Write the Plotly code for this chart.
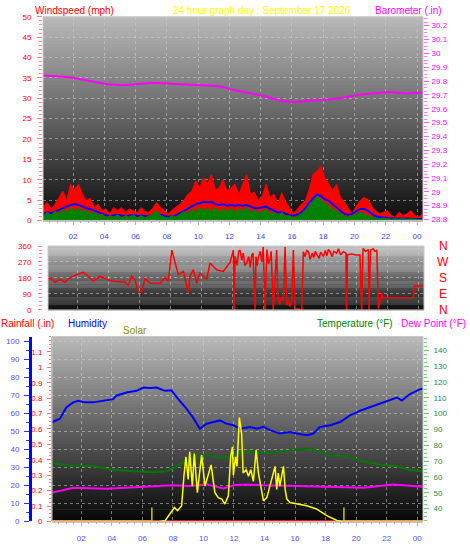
import numpy as np
import plotly.graph_objects as go

# ---------------- data ----------------
wind_hours = [round(0.1 + 0.25 * i, 2) for i in range(98)]
wind_gust = [3.5, 4.4, 2.8, 4.0, 5.6, 7.2, 5.0, 8.9, 7.5, 8.9, 6.5, 4.8, 5.5, 3.2, 4.0, 2.4,
             2.8, 1.6, 3.2, 2.4, 3.2, 2.0, 2.8, 2.4, 1.8, 3.2, 2.2, 2.0, 3.0, 4.4, 3.2, 2.4,
             1.6, 2.6, 3.2, 4.0, 5.0, 6.4, 7.2, 9.7, 8.0, 10.5, 8.9, 11.3, 7.5, 8.0, 10.0, 7.2,
             8.0, 8.9, 6.4, 9.0, 11.3, 6.4, 7.0, 4.8, 6.0, 8.9, 5.6, 6.5, 4.0, 6.8, 4.5, 3.2,
             1.6, 2.8, 4.0, 4.8, 7.5, 11.3, 12.1, 13.3, 10.5, 9.0, 7.2, 8.9, 5.6, 4.5, 3.2, 1.6,
             3.5, 4.8, 5.6, 5.2, 3.5, 2.4, 1.6, 2.0, 2.4, 1.2, 0.8, 2.0, 1.2, 1.6, 2.4, 1.2,
             0.8, 1.6]
wind_avg = [1.5, 2.0, 1.8, 2.2, 2.4, 2.8, 3.2, 3.8, 4.0, 3.8, 3.4, 3.0, 2.8, 2.4, 2.0, 1.6,
            1.3, 1.1, 1.2, 1.4, 1.2, 1.0, 1.2, 1.3, 1.1, 1.2, 1.0, 1.1, 1.4, 1.6, 1.4, 1.1,
            0.9, 1.0, 1.3, 1.8, 2.4, 3.0, 3.4, 4.0, 4.2, 4.6, 4.4, 4.6, 4.0, 3.8, 4.0, 3.6,
            3.8, 3.6, 3.8, 3.6, 3.8, 3.4, 3.0, 3.0, 3.2, 3.4, 2.8, 2.4, 2.0, 2.0, 1.6, 1.3,
            1.2, 1.4, 2.0, 3.0, 4.4, 5.4, 6.4, 6.0, 5.2, 4.8, 4.0, 3.4, 2.4, 1.6, 1.4, 1.6,
            2.2, 2.8, 2.8, 2.4, 1.6, 1.0, 0.8, 0.8, 0.6, 0.5, 0.4, 0.5, 0.4, 0.5, 0.4, 0.4,
            0.3, 0.4]
wind_speed = [1.0, 2.0, 1.2, 2.4, 1.5, 2.8, 2.0, 3.2, 2.4, 3.0, 2.2, 2.6, 1.6, 2.2, 1.2, 1.6,
              0.6, 1.2, 0.8, 1.4, 0.6, 1.2, 0.8, 1.4, 0.6, 1.2, 0.6, 1.0, 1.6, 2.4, 1.2, 0.8,
              0.6, 1.2, 0.8, 1.6, 2.2, 1.6, 2.8, 2.0, 3.2, 2.4, 3.0, 2.2, 3.2, 2.0, 2.8, 2.2,
              3.0, 2.0, 2.8, 2.4, 3.2, 2.0, 2.6, 1.8, 2.4, 2.8, 1.6, 2.0, 1.2, 2.0, 1.0, 1.2,
              0.6, 1.0, 1.6, 2.4, 3.6, 4.8, 6.0, 5.0, 4.4, 3.6, 2.8, 2.4, 1.6, 1.2, 0.8, 1.2,
              1.6, 2.0, 1.6, 1.2, 0.8, 0.6, 0.4, 0.6, 0.4, 0.3, 0.4, 0.3, 0.4, 0.3, 0.4, 0.3,
              0.2, 0.3]

baro_hours = [0.08, 0.98, 2.0, 3.09, 4.17, 5.2, 6.09, 7.11, 8.0, 9.03, 10.1, 11.2, 11.84,
              12.03, 13.1, 14.14, 15.2, 16.06, 17.14, 18.2, 19.25, 20.53, 22.25, 23.34, 24.38]
baro_values = [29.84, 29.835, 29.823, 29.80, 29.776, 29.77, 29.776, 29.788, 29.783, 29.776,
               29.77, 29.764, 29.75, 29.74, 29.717, 29.693, 29.66, 29.646, 29.66, 29.665,
               29.68, 29.705, 29.72, 29.71, 29.717]

dir_hours = [0.08, 0.21, 0.53, 0.86, 1.18, 1.5, 1.93, 2.36, 2.69, 3.01, 3.44, 3.87, 4.3, 4.73,
             5.06, 5.27, 5.49, 5.7, 5.92, 6.14, 6.35, 6.67, 7.32, 7.64, 7.86, 8.08, 8.29, 8.5,
             8.83, 9.15, 9.26, 9.47, 9.69, 9.9, 10.34, 10.55, 10.98, 11.41, 11.84,
             12.06, 12.1, 12.17, 12.3, 12.4, 12.49, 12.6, 12.7, 12.8, 12.92, 13.05, 13.15,
             13.25, 13.33, 13.46, 13.52, 13.6, 13.67, 13.8, 13.9, 13.99, 14.1, 14.23, 14.33,
             14.43, 14.5, 14.64, 14.86, 14.94, 15.05, 15.15, 15.29, 15.4, 15.51, 15.6, 15.7,
             15.83, 15.94, 16.05, 16.48, 16.58, 16.7, 16.8, 16.91, 17.02, 17.15, 17.25, 17.35,
             17.45, 17.6, 17.7, 17.88, 18.0, 18.1, 18.2, 18.31, 18.45, 18.55, 18.74, 18.85,
             19.0, 19.17, 19.34, 19.37, 19.43, 19.7, 20.0, 20.24, 20.35, 20.44, 20.6, 20.78,
             20.83, 20.92, 21.1, 21.2, 21.33, 21.43, 21.65, 21.73, 23.69, 23.77, 24.38]
dir_values = [175, 181, 155, 172, 155, 181, 199, 212, 190, 162, 190, 172, 162, 157,
              157, 138, 190, 172, 98, 107, 176, 150, 150, 181, 162, 337, 264, 199,
              217, 98, 190, 226, 150, 208, 172, 264, 226, 217, 267,
              337, 0, 302, 250, 330, 337, 280, 320, 250, 264, 300, 240,
              310, 320, 0, 300, 250, 293, 330, 270, 355, 0, 340, 260,
              284, 330, 0, 337, 79, 30, 70, 52, 355, 26, 60, 20,
              52, 337, 8, 0, 328, 300, 335, 328, 284, 320, 295, 330,
              310, 290, 325, 302, 335, 305, 340, 328, 300, 330, 320, 345,
              310, 328, 320, 0, 310, 315, 310, 310, 0, 346, 330, 340,
              0, 337, 345, 330, 337, 8, 98, 69, 69, 135, 135]

hum_hours = [0.1, 0.6, 1.03, 1.47, 1.79, 2.23, 2.78, 3.43, 4.09, 4.3, 4.96, 5.62, 6.06, 6.5,
             6.93, 7.48, 7.9, 8.35, 8.9, 9.3, 9.77, 10.2, 10.65, 11.08, 11.5, 11.96, 12.4,
             13.05, 13.5, 13.93, 14.36, 15.0, 15.67, 16.1, 16.77, 17.2, 17.64, 18.3, 18.95,
             19.6, 20.3, 20.9, 21.6, 22.2, 22.67, 23.0, 23.5, 24.2, 24.38]
hum_values = [55.1, 56.9, 63.3, 66.0, 66.9, 66.0, 66.0, 67.0, 67.8, 69.7, 71.5, 72.4, 74.2, 74.0,
              74.2, 72.4, 72.7, 67.8, 62.4, 57.8, 51.4, 54.2, 55.1, 56.0, 54.2, 53.3, 51.4,
              52.4, 51.4, 52.4, 50.6, 48.7, 49.6, 48.7, 47.8, 48.7, 52.4, 53.3, 55.1,
              58.8, 61.5, 63.3, 65.1, 67.0, 68.7, 67.0, 70.5, 73.3, 73.5]

temp_hours = [0.1, 1.47, 2.78, 4.09, 5.4, 6.71, 7.58, 8.24, 8.9, 9.77, 10.43, 11.08, 11.96,
              12.4, 13.05, 13.93, 15.0, 16.1, 17.0, 17.64, 18.3, 19.4, 20.5, 21.6, 22.67,
              23.5, 24.2, 24.38]
temp_values = [68.7, 67.1, 66.7, 64.6, 63.6, 62.9, 63.6, 66.7, 70.8, 72.9, 73.9, 71.8, 73.5,
               75.0, 76.0, 74.9, 76.0, 77.0, 78.0, 76.0, 73.9, 72.9, 69.8, 67.7, 66.7,
               64.6, 63.6, 63.5]

dew_hours = [0.1, 1.03, 1.47, 3.65, 5.84, 8.02, 9.1, 10.2, 11.3, 12.0, 12.8, 13.9, 16.1,
             18.3, 20.5, 22.45, 24.2, 24.38]
dew_values = [50.1, 52.2, 53.2, 52.6, 53.8, 54.7, 54.3, 55.3, 52.8, 54.8, 55.3, 54.7, 54.3,
              53.8, 53.2, 55.3, 53.8, 53.8]

solar_hours = [6.62, 7.1, 7.5, 7.9, 8.1, 8.3, 8.57, 8.72, 8.85, 9.0, 9.1, 9.27, 9.4, 9.6,
               9.88, 10.1, 10.3, 10.5, 10.75, 10.97, 11.2, 11.4, 11.63, 11.78, 11.9, 11.96,
               12.1, 12.2, 12.35, 12.5, 12.6, 12.8, 12.95, 13.1, 13.27, 13.45, 13.6, 13.75,
               13.93, 14.15, 14.36, 14.58, 14.69, 14.8, 14.9, 15.0, 15.24, 15.35, 15.46, 15.67,
               16.1, 16.77, 17.4, 18.08, 18.74, 19.2]
solar_values = [0, 0, 6, 59, 91, 70, 102, 293, 420, 272, 452, 229, 441, 187,
                431, 229, 293, 367, 187, 155, 145, 113, 166, 420, 484, 300,
                420, 357, 675, 569, 314, 336, 293, 336, 261, 463, 314, 229,
                134, 155, 229, 314, 357, 208, 314, 229, 357, 208, 145, 123,
                113, 102, 81, 38, 6, 0]
sun_events = [6.62, 19.2]          # sunrise / sunset markers
sun_marker_height = 90

rain_hours = [0.08, 24.38]
rain_values = [0.0, 0.0]
night_hours = [[0.08, 6.62], [19.2, 24.38]]

xtick_vals = [2, 4, 6, 8, 10, 12, 14, 16, 18, 20, 22, 24]
xtick_text = ["02", "04", "06", "08", "10", "12", "14", "16", "18", "20", "22", "00"]
dir_ticks = [0, 90, 180, 270, 360]
compass = ["N", "W", "S", "E", "N"]
compass_vals = [360, 270, 180, 90, 0]

# ---------------- figure ----------------
W, H = 470, 554
FONT = "Liberation Sans"
XR = [0.08, 24.38]

def px_x(p):
    return p / W

def px_y(p):
    return 1 - p / H

fig = go.Figure()

# top panel
fig.add_trace(go.Scatter(x=wind_hours, y=wind_gust, mode="lines", fill="tozeroy",
                         line=dict(color="#ff0000", width=1), fillcolor="#ff0000",
                         xaxis="x", yaxis="y", hoverinfo="skip"))
fig.add_trace(go.Scatter(x=wind_hours, y=wind_avg, mode="lines",
                         line=dict(color="#0000ff", width=2),
                         xaxis="x", yaxis="y", hoverinfo="skip"))
fig.add_trace(go.Scatter(x=wind_hours, y=wind_speed, mode="lines", fill="tozeroy",
                         line=dict(color="#008000", width=1), fillcolor="#008000",
                         xaxis="x", yaxis="y", hoverinfo="skip"))
fig.add_trace(go.Scatter(x=baro_hours, y=baro_values, mode="lines",
                         line=dict(color="#ff00ff", width=2),
                         xaxis="x", yaxis="y2", hoverinfo="skip"))

# middle panel
fig.add_trace(go.Scatter(x=dir_hours, y=dir_values, mode="lines",
                         line=dict(color="#ff0000", width=1.5),
                         xaxis="x2", yaxis="y3", hoverinfo="skip"))

# bottom panel
fig.add_trace(go.Scatter(x=rain_hours, y=rain_values, mode="lines",
                         line=dict(color="#ff0000", width=3),
                         xaxis="x3", yaxis="y4", hoverinfo="skip"))
for seg in night_hours:
    fig.add_trace(go.Scatter(x=seg, y=[0, 0], mode="lines",
                             line=dict(color="#ff9900", width=3),
                             xaxis="x3", yaxis="y4", hoverinfo="skip"))
fig.add_trace(go.Scatter(x=temp_hours, y=temp_values, mode="lines",
                         line=dict(color="#007800", width=2),
                         xaxis="x3", yaxis="y6", hoverinfo="skip"))
fig.add_trace(go.Scatter(x=dew_hours, y=dew_values, mode="lines",
                         line=dict(color="#ff00ff", width=2),
                         xaxis="x3", yaxis="y6", hoverinfo="skip"))
fig.add_trace(go.Scatter(x=hum_hours, y=hum_values, mode="lines",
                         line=dict(color="#0000ff", width=2),
                         xaxis="x3", yaxis="y5", hoverinfo="skip"))
fig.add_trace(go.Scatter(x=solar_hours, y=solar_values, mode="lines",
                         line=dict(color="#ffff00", width=1.5),
                         xaxis="x3", yaxis="y7", hoverinfo="skip"))
for t in sun_events:
    fig.add_trace(go.Scatter(x=[t, t], y=[0, sun_marker_height], mode="lines",
                             line=dict(color="#c8c800", width=1.5),
                             xaxis="x3", yaxis="y7", hoverinfo="skip"))

# gradient backgrounds
def gradient(xref, yref, top, bottom, n=60):
    shapes = []
    for i in range(n):
        f = i / (n - 1)
        c = [int(round(top[k] + (bottom[k] - top[k]) * f)) for k in range(3)]
        col = f"rgb({c[0]},{c[1]},{c[2]})"
        shapes.append(dict(type="rect", xref=xref, yref=yref, x0=0, x1=1,
                           y0=1 - (i + 1) / n - 0.004, y1=1 - i / n, layer="below",
                           line=dict(width=0), fillcolor=col))
    shapes.append(dict(type="rect", xref=xref, yref=yref, x0=0, x1=1, y0=0, y1=1,
                       layer="above", line=dict(color="#c8c8c8", width=1),
                       fillcolor="rgba(0,0,0,0)"))
    return shapes

shapes = []
shapes += gradient("x domain", "y domain", (184, 184, 184), (14, 14, 14))
shapes += gradient("x2 domain", "y3 domain", (190, 190, 190), (14, 14, 14))
shapes += gradient("x3 domain", "y4 domain", (184, 184, 184), (8, 8, 8))

tickfont = lambda c: dict(family=FONT, size=8, color=c)
grid = dict(showgrid=True, gridcolor="rgba(205,205,205,0.55)", griddash="dot", gridwidth=1)

def minor(dtick, color, tick0=0, ln=3):
    return dict(dtick=dtick, tick0=tick0, ticks="outside", ticklen=ln, tickcolor=color,
                showgrid=False)

xcommon = dict(range=XR, tickvals=xtick_vals, ticktext=xtick_text, ticks="outside",
               ticklen=4, tickcolor="#b0b0b0", zeroline=False,
               minor=minor(0.5, "#b0b0b0", 0, 2), **grid)

layout = dict(
    width=W, height=H, margin=dict(l=0, r=0, t=0, b=0),
    paper_bgcolor="white", plot_bgcolor="rgba(0,0,0,0)", showlegend=False,
    xaxis=dict(domain=[px_x(43), px_x(423)], anchor="y",
               tickfont=tickfont("#4040ff"), ticklabelstandoff=4, **xcommon),
    yaxis=dict(domain=[px_y(220), px_y(13)], range=[0, 50], dtick=5, ticks="outside",
               ticklen=5, tickcolor="#ff8080", tickfont=tickfont("#ff0000"),
               ticklabelstandoff=4, zeroline=False,
               minor=minor(1, "#ff9090"), **grid),
    yaxis2=dict(overlaying="y", side="right", anchor="x", range=[28.793, 30.264],
                dtick=0.1, tick0=28.8, ticks="outside", ticklen=5, tickcolor="#ff60ff",
                tickfont=tickfont("#ff00ff"), ticklabelstandoff=1, showgrid=False,
                zeroline=False, minor=minor(0.025, "#ff80ff", 28.8)),
    xaxis2=dict(domain=[px_x(48), px_x(424)], anchor="y3", showticklabels=False,
                **{k: v for k, v in xcommon.items() if k not in ("ticks", "minor")},
                ticks=""),
    yaxis3=dict(domain=[px_y(311), px_y(246)], range=[0, 360], tickvals=dir_ticks,
                ticks="outside", ticklen=4, tickcolor="#ff8080",
                tickfont=tickfont("#ff0000"), ticklabelstandoff=5, zeroline=False,
                minor=minor(22.5, "#ff9090"), **grid),
    xaxis3=dict(domain=[px_x(52), px_x(423)], anchor="y4",
                tickfont=tickfont("#5050ff"), ticklabelstandoff=5, **xcommon),
    yaxis4=dict(domain=[px_y(526), px_y(338)], range=[0, 1.2],
                anchor="x3", ticks="outside", ticklen=4, tickcolor="#ff7070",
                tickfont=tickfont("#ff0000"), ticklabelstandoff=3, showgrid=False,
                zeroline=False, showline=True, linecolor="#ff9090", linewidth=1,
                tickvals=[0, 0.1, 0.2, 0.3, 0.4, 0.5, 0.6, 0.7, 0.8, 0.9, 1, 1.1],
                ticktext=["0", "0.1", "0.2", "0.3", "0.4", "0.5", "0.6", "0.7", "0.8",
                          "0.9", "1", "1.1"],
                minor=minor(0.025, "#ff8080", 0, 2)),
    yaxis5=dict(overlaying="y4", anchor="free", position=px_x(30), side="left",
                range=[0, 102.5], dtick=10, tick0=0, ticks="outside", ticklen=5,
                tickcolor="#3030ff", tickfont=tickfont("#5050ff"), ticklabelstandoff=3,
                showline=True, linecolor="#0000ff", linewidth=3, zeroline=False,
                minor=minor(5, "#3030ff"), **grid),
    yaxis6=dict(overlaying="y4", side="right", anchor="x3", range=[31.9, 148.7],
                dtick=10, tick0=0, ticks="outside", ticklen=5, tickcolor="#70c070",
                tickfont=tickfont("#1a8a50"), ticklabelstandoff=3, showgrid=False,
                zeroline=False, minor=minor(2.5, "#80c880")),
    yaxis7=dict(overlaying="y4", range=[0, 1200], visible=False, anchor="x3"),
    shapes=shapes,
)

ann = []
def label(text, x, y, color, size=10, xanchor="left"):
    ann.append(dict(text=text, x=px_x(x), y=px_y(y), xref="paper", yref="paper",
                    xanchor=xanchor, yanchor="middle", showarrow=False,
                    font=dict(family=FONT, size=size, color=color)))

label("Windspeed (mph)", 33, 7, "#ff0000")
label("24 hour graph day : September 17 2026", 171, 7, "#ffff00")
label("Barometer (.in)", 373, 7, "#ff00ff")
label("Rainfall (.in)", -1, 325, "#ff0000")
label("Humidity", 66, 325, "#0000ff")
label("Solar", 121, 332, "#8c8c00")
label("Temperature (°F)", 315, 325, "#008000")
label("Dew Point (°F)", 468, 325, "#ff00ff", xanchor="right")
for c, v in zip(compass, compass_vals):
    ann.append(dict(text=c, x=px_x(443), y=v, xref="paper", yref="y3",
                    xanchor="center", yanchor="middle", showarrow=False,
                    font=dict(family=FONT, size=12, color="#ff0000")))
layout["annotations"] = ann

fig.update_layout(**layout)
fig.write_html("out.html", config={"displayModeBar": False},
               post_script="document.body.style.margin='0';document.body.style.padding='0';")
